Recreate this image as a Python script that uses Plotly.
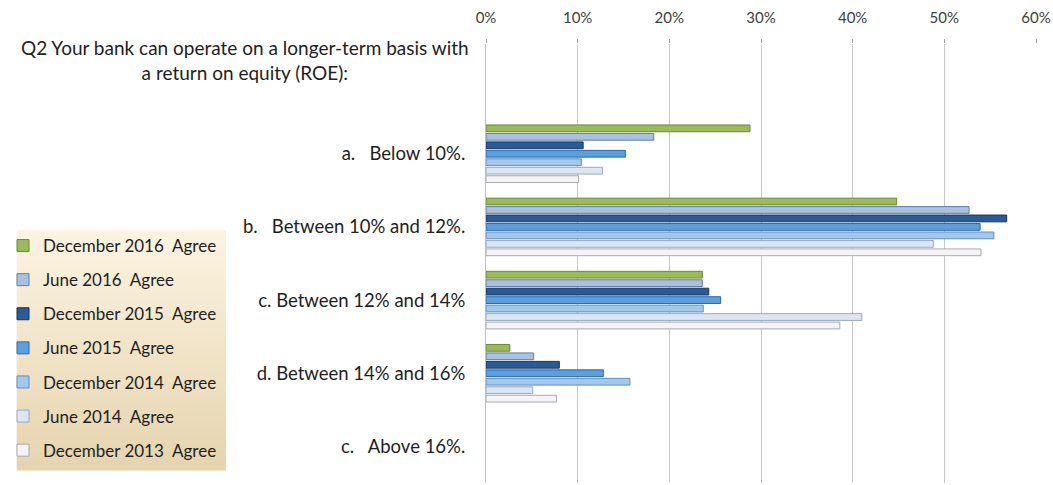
import plotly.graph_objects as go

# Survey answers: share of respondents agreeing, per ROE band
NB = "\u00a0"
categories = [
    "Q2",
    "a." + NB * 2 + " Below 10%.",
    "b." + NB * 2 + " Between 10% and 12%.",
    "c. Between 12% and 14%",
    "d. Between 14% and 16%",
    "c." + NB * 2 + " Above 16%.",
]
question = "Q2 Your bank can operate on a longer-term basis with<br>a return on equity (ROE):"

series_names = [
    "December 2016  Agree",
    "June 2016  Agree",
    "December 2015  Agree",
    "June 2015  Agree",
    "December 2014  Agree",
    "June 2014  Agree",
    "December 2013  Agree",
]
dec_2016 = [None, 0.288, 0.448, 0.236, 0.026, None]
jun_2016 = [None, 0.183, 0.527, 0.236, 0.052, None]
dec_2015 = [None, 0.106, 0.568, 0.243, 0.080, None]
jun_2015 = [None, 0.152, 0.539, 0.256, 0.128, None]
dec_2014 = [None, 0.104, 0.554, 0.237, 0.157, None]
jun_2014 = [None, 0.127, 0.488, 0.410, 0.051, None]
dec_2013 = [None, 0.101, 0.540, 0.386, 0.077, None]
series_values = [dec_2016, jun_2016, dec_2015, jun_2015, dec_2014, jun_2014, dec_2013]

tick_vals = [0, 0.1, 0.2, 0.3, 0.4, 0.5, 0.6]
tick_text = ["0%", "10%", "20%", "30%", "40%", "50%", "60%"]

fills = ["#9BBB59", "#A9C1DF", "#2A5B95", "#5A9FE0", "#A3C8EC", "#DCE6F2", "#F4F4F6"]
edges = ["#6B8A33", "#5D7EA8", "#17375E", "#2D6AA6", "#5F8FC2", "#97A9C1", "#A8A8AE"]

W, H = 1053, 485
ML, MR, MT, MB = 486, 15, 44, 2
PW, PH = W - ML - MR, H - MT - MB

def px_x(p):
    return (p - ML) / PW

def px_y(p):
    return 1 - (p - MT) / PH

fig = go.Figure()
for i, (name, vals) in enumerate(zip(series_names, series_values)):
    fig.add_trace(go.Bar(
        name=name.replace("  ", NB + " "),
        y=categories,
        x=vals,
        orientation="h",
        legendgroup=name,
        marker=dict(color=fills[i], line=dict(color=edges[i], width=1)),
        hoverinfo="x+y+name",
    ))

# Legend panel: warm vertical gradient built from thin strips
top_rgb = (252, 243, 226)
bot_rgb = (229, 212, 174)
x0, x1, y0, y1 = 15, 225, 230, 470
n = 60
shapes = []
for k in range(n):
    t = k / (n - 1)
    c = tuple(round(a + (b - a) * t) for a, b in zip(top_rgb, bot_rgb))
    ya = y0 + (y1 - y0) * k / n
    yb = y0 + (y1 - y0) * (k + 1) / n + 0.6
    shapes.append(dict(
        type="rect", xref="paper", yref="paper", layer="below",
        x0=px_x(x0), x1=px_x(x1), y0=px_y(yb), y1=px_y(ya),
        fillcolor="rgb(%d,%d,%d)" % c, line=dict(width=0),
    ))

fig.update_layout(
    width=W, height=H,
    margin=dict(l=ML, r=MR, t=MT, b=MB, pad=0),
    paper_bgcolor="white", plot_bgcolor="white",
    font=dict(family="Lato, 'Open Sans', sans-serif", size=15, color="#1E1E1E"),
    barmode="group", bargap=0.19, bargroupgap=0.2,
    showlegend=True,
    legend=dict(
        xref="container", yref="container",
        x=3 / W, y=1 - 228 / H, xanchor="left", yanchor="top",
        bgcolor="rgba(0,0,0,0)", borderwidth=0,
        font=dict(size=17, color="#1E1E1E"),
        traceorder="grouped", tracegroupgap=9, itemwidth=30,
    ),
    xaxis=dict(
        side="top", range=[0, 0.6],
        tickvals=tick_vals, ticktext=tick_text,
        showgrid=True, gridcolor="#C8C8C8", gridwidth=1,
        ticks="outside", ticklen=4, tickcolor="#A0A0A0",
        showline=False, zeroline=False,
        tickfont=dict(size=15, color="#404040"),
        ticklabelstandoff=10,
    ),
    yaxis=dict(
        type="category", categoryorder="array", categoryarray=categories,
        autorange="reversed",
        tickvals=categories, ticktext=[""] + categories[1:],
        showgrid=False, zeroline=False,
        showline=True, linecolor="#BFBFBF", linewidth=1,
        ticks="", ticklabelstandoff=16,
        tickfont=dict(size=18.5, color="#1E1E1E"),
    ),
    shapes=shapes,
    annotations=[dict(
        text=question, xref="paper", yref="paper",
        x=px_x(244), y=px_y(60), xanchor="center", yanchor="middle",
        showarrow=False, align="center",
        font=dict(size=19, color="#1E1E1E"),
    )],
)

fig.write_html("out.html")
